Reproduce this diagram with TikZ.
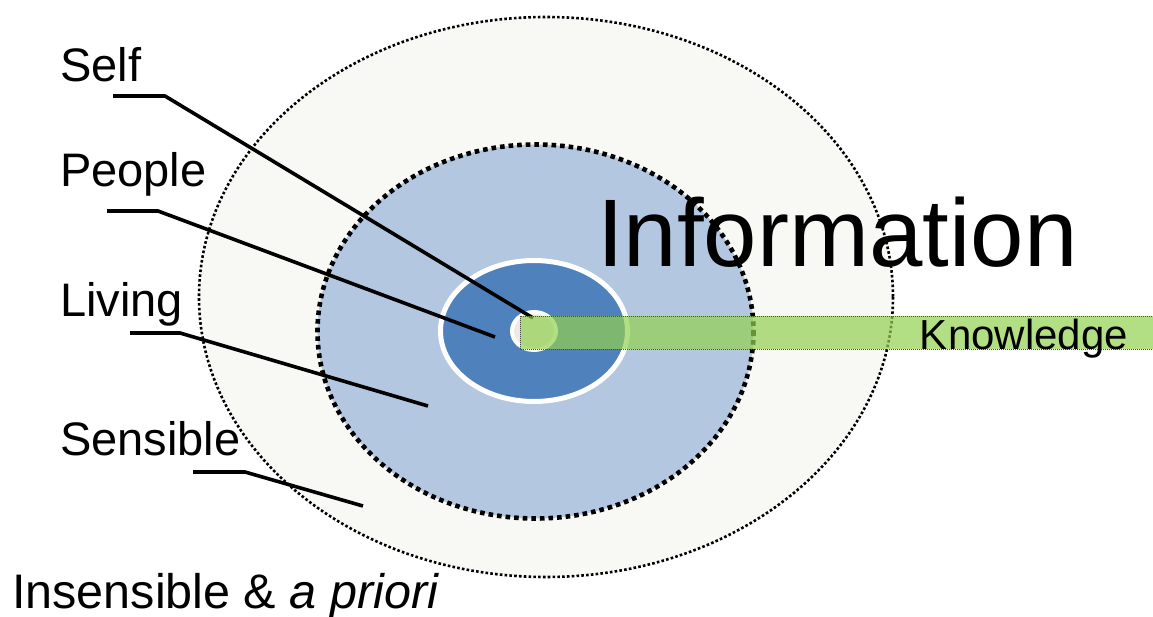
\documentclass[tikz,border=0pt]{standalone}
\usepackage{fontspec}
\setmainfont{Liberation Sans}
\usetikzlibrary{positioning}

\definecolor{outerfill}{HTML}{F8F8F4}
\definecolor{midfill}{HTML}{B4C7E0}
\definecolor{coreblue}{HTML}{4F81BD}
\definecolor{selffill}{HTML}{ECEAE2}
\definecolor{knowgreen}{HTML}{92D050}

\tikzset{
  lbl/.style={inner sep=0pt,anchor=base west,font=\fontsize{47}{56}\selectfont},
  leader/.style={line width=3.6pt,line join=round},
  smalldots/.style={line width=2.6pt,dash pattern=on 2.6pt off 2.2pt},
  bigdots/.style={line width=4.6pt,dash pattern=on 4.6pt off 4pt}
}

\begin{document}
\begin{tikzpicture}[x=1pt,y=-1pt]
            \useasboundingbox (0,0) rectangle (1153,617);
            % Rings
            \coordinate (ctr) at (534,331);
            \fill[outerfill] (546,297) ellipse (347 and 280);
            \draw[smalldots] (546,297) ellipse (347 and 280);
            \fill[midfill] (535.5,331.5) ellipse (218 and 187);
            \draw[bigdots] (535.5,331.5) ellipse (218 and 187);
            \draw[white,line width=5pt,fill=coreblue] (ctr) ellipse (93.5 and 70.5);
            \draw[white,line width=4pt,fill=selffill] (ctr) ellipse (22 and 19);
            % Labels
            \node[lbl] (self) at (60,82) {Self};
            \node[lbl] (people) at (60,187) {People};
            \node[lbl] (living) at (60,317) {Living};
            \node[lbl] (sensible) at (60,455) {Sensible};
            \node[lbl,font=\fontsize{48.5}{58}\selectfont] (insensible) at (12,608) {Insensible \& \textit{a priori}};
            \node[inner sep=0pt,anchor=base west,font=\fontsize{96}{110}\selectfont] (info) at (597,267) {Information};
            % Leaders
            \coordinate (selfk) at (113,96);
            \coordinate (selfend) at (533,318);
            \coordinate (peoplek) at (107,211);
            \coordinate (peopleend) at (495,337);
            \coordinate (livingk) at (130,333);
            \coordinate (livingend) at (428,406);
            \coordinate (sensiblek) at (193,472);
            \coordinate (sensibleend) at (363,506);
            \draw[leader] (selfk) -- ++(52,0) -- (selfend);
            \draw[leader] (peoplek) -- ++(51,0) -- (peopleend);
            \draw[leader] (livingk) -- ++(50,0) -- (livingend);
            \draw[leader] (sensiblek) -- ++(52,0) -- (sensibleend);
            % Knowledge bar
            \draw[fill=knowgreen,fill opacity=0.7,draw=black!70,line width=0.8pt,dash pattern=on 1pt off 1pt]
              (520,316) rectangle (1153,349);
            \node[inner sep=0pt,anchor=base east,font=\fontsize{42}{50}\selectfont] (knowledge) at (1128,349) {Knowledge};
        \end{tikzpicture}
\end{document}
